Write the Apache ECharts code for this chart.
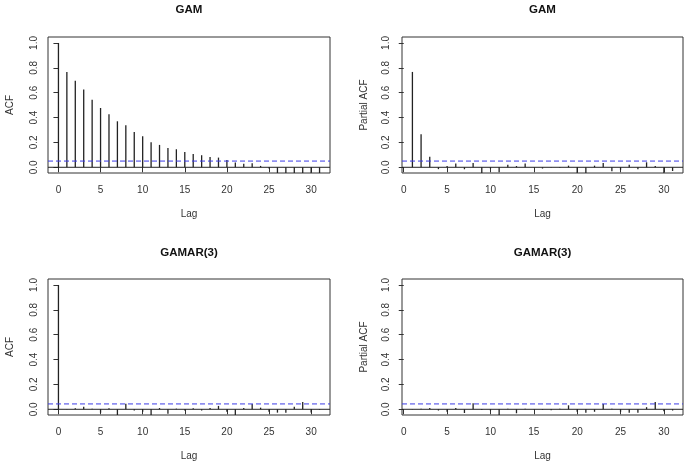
<!DOCTYPE html>
<html>
<head>
<meta charset="utf-8">
<script src="https://cdn.jsdelivr.net/npm/echarts@6/dist/echarts.min.js"></script>
<style>
  html, body { margin: 0; padding: 0; background: #fff; }
  #chart { width: 685px; height: 466px; }
</style>
</head>
<body>
<div id="chart"></div>
<script>
// lags
const acfLags = [0, 1, 2, 3, 4, 5, 6, 7, 8, 9, 10, 11, 12, 13, 14, 15, 16, 17, 18, 19, 20, 21, 22, 23, 24, 25, 26, 27, 28, 29, 30, 31];
const pacfLags = [1, 2, 3, 4, 5, 6, 7, 8, 9, 10, 11, 12, 13, 14, 15, 16, 17, 18, 19, 20, 21, 22, 23, 24, 25, 26, 27, 28, 29, 30, 31];

// GAM residuals
const gamAcf = [1.0, 0.767, 0.697, 0.625, 0.544, 0.477, 0.426, 0.370, 0.338, 0.284, 0.249, 0.201, 0.180, 0.155, 0.145, 0.123,
  0.107, 0.097, 0.083, 0.078, 0.059, 0.038, 0.029, 0.032, 0.011, -0.010, -0.055, -0.060, -0.062, -0.065, -0.068, -0.070];
const gamPacf = [0.767, 0.265, 0.085, -0.015, 0.010, 0.030, -0.016, 0.035, -0.050, -0.010, -0.040, 0.020, 0.010, 0.030, 0.002, -0.010,
  0.003, -0.003, 0.013, -0.050, -0.050, 0.013, 0.035, -0.032, -0.020, 0.020, -0.016, 0.040, 0.010, -0.050, -0.030];

// GAMAR(3) residuals
const gamarAcf = [1.0, 0.002, 0.008, 0.020, 0.005, -0.028, 0.008, -0.050, 0.045, -0.010, -0.020, -0.050, 0.010, -0.035, 0.005, -0.010,
  0.008, -0.010, 0.010, 0.027, -0.020, -0.050, 0.010, 0.042, 0.013, -0.020, -0.027, -0.027, 0.020, 0.058, -0.025, -0.005];
const gamarPacf = [0.002, 0.005, 0.010, -0.010, -0.020, 0.010, -0.030, 0.048, -0.005, -0.010, -0.050, 0.004, -0.032, 0.005, 0.003, -0.005,
  -0.008, 0.005, 0.032, -0.020, -0.027, -0.020, 0.043, 0.005, -0.020, -0.027, -0.027, 0.017, 0.058, -0.015, -0.010];

// 95% bounds
const ciTop = 0.05;
const ciBottom = 0.043;

const titles = ["GAM", "GAM", "GAMAR(3)", "GAMAR(3)"];
const yNames = ["ACF", "Partial ACF", "ACF", "Partial ACF"];
const xTicks = [0, 5, 10, 15, 20, 25, 30];
const yTicks = [0, 0.2, 0.4, 0.6, 0.8, 1];

const panels = [
  { lags: acfLags, vals: gamAcf, ci: ciTop, grid: { left: 48, top: 37, width: 282, height: 136 }, xr: [-1.24, 32.24], lm: 9 },
  { lags: pacfLags, vals: gamPacf, ci: ciTop, grid: { left: 402, top: 37, width: 281, height: 136 }, xr: [-0.2, 32.2], lm: 11 },
  { lags: acfLags, vals: gamarAcf, ci: ciBottom, grid: { left: 48, top: 279, width: 282, height: 136 }, xr: [-1.24, 32.24], lm: 9 },
  { lags: pacfLags, vals: gamarPacf, ci: ciBottom, grid: { left: 402, top: 279, width: 281, height: 136 }, xr: [-0.2, 32.2], lm: 11 },
];

const textColor = "#333";
const font = "Liberation Sans, Arial, sans-serif";

const chart = echarts.init(document.getElementById("chart"));

const barSeries = panels.map((p, i) => ({
  type: "bar",
  xAxisIndex: i,
  yAxisIndex: i,
  barWidth: 1.3,
  clip: true,
  z: 3,
  itemStyle: { color: "#222" },
  data: p.lags.map((l, k) => [l, p.vals[k]]),
}));

// zero line and dashed confidence bound across the whole plot width
const zeroSeries = panels.map((p, i) => ({
  type: "line",
  xAxisIndex: i,
  yAxisIndex: i,
  symbol: "none",
  silent: true,
  z: 4,
  lineStyle: { color: "#222", width: 1 },
  data: [[p.xr[0], 0], [p.xr[1], 0]],
}));

const ciSeries = panels.map((p, i) => ({
  type: "line",
  xAxisIndex: i,
  yAxisIndex: i,
  symbol: "none",
  silent: true,
  z: 5,
  lineStyle: { color: "#3b3be6", type: [5, 3], width: 1 },
  data: [[p.xr[0], p.ci], [p.xr[1], p.ci]],
}));

const option = {
  animation: false,
  backgroundColor: "#fff",
  textStyle: { fontFamily: font },
  grid: panels.map((p) => Object.assign({ show: true, borderColor: "#333", borderWidth: 1, backgroundColor: "transparent" }, p.grid)),
  xAxis: panels.map((p, i) => ({
    type: "value",
    gridIndex: i,
    min: p.xr[0],
    max: p.xr[1],
    axisLine: { show: false },
    splitLine: { show: false },
    axisTick: { show: true, customValues: xTicks, length: 5, lineStyle: { color: "#333" } },
    axisLabel: { customValues: xTicks, margin: 12, fontSize: 10, color: textColor, fontFamily: font },
    name: "Lag",
    nameLocation: "middle",
    nameGap: 36,
    nameTextStyle: { fontSize: 10, color: textColor, fontFamily: font },
  })),
  yAxis: panels.map((p, i) => ({
    type: "value",
    gridIndex: i,
    min: -0.046,
    max: 1.048,
    axisLine: { show: false },
    splitLine: { show: false },
    axisTick: { show: true, customValues: yTicks, length: 5, lineStyle: { color: "#333" } },
    axisLabel: {
      customValues: yTicks,
      rotate: 90,
      margin: p.lm,
      fontSize: 10,
      color: textColor,
      fontFamily: font,
      formatter: (v) => v.toFixed(1),
    },
    name: yNames[i],
    nameLocation: "middle",
    nameRotate: 90,
    nameGap: 33,
    nameTextStyle: { fontSize: 10, color: textColor, fontFamily: font },
  })),
  graphic: panels.map((p, i) => ({
    type: "text",
    x: p.grid.left + p.grid.width / 2,
    y: i < 2 ? 10 : 253,
    style: {
      text: titles[i],
      textAlign: "center",
      textVerticalAlign: "middle",
      font: "bold 11.5px " + font,
      fill: "#111",
    },
  })),
  series: barSeries.concat(zeroSeries, ciSeries),
};

chart.setOption(option);
</script>
</body>
</html>
